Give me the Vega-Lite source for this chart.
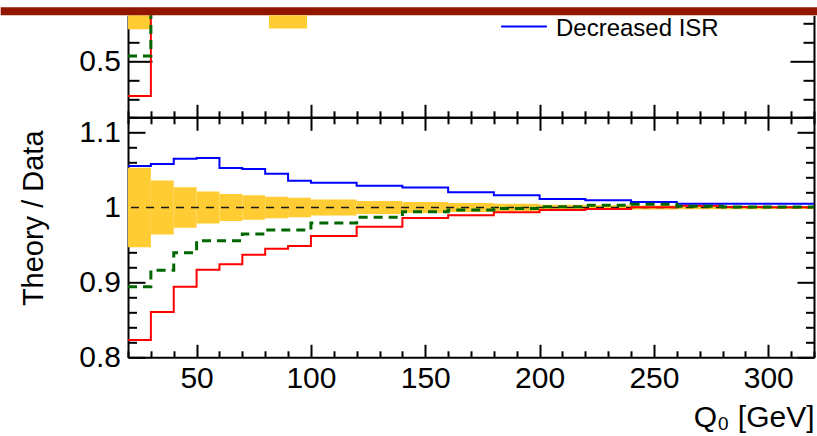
{
  "$schema": "https://vega.github.io/schema/vega-lite/v6.json",
  "background": "white",
  "padding": {"left": 0, "top": 7.3, "right": 0, "bottom": 0},
  "bounds": "flush",
  "spacing": 0,
  "config": {
    "font": "Liberation Sans",
    "view": {"stroke": null},
    "axis": {"domainColor": "#000", "tickColor": "#000", "domainWidth": 2, "tickWidth": 2, "labelColor": "#000", "titleColor": "#000", "labelFont": "Liberation Sans", "titleFont": "Liberation Sans", "titleFontWeight": "normal", "grid": false, "zindex": 1, "labelOverlap": false, "labelFlush": false},
    "legend": {"labelFont": "Liberation Sans", "labelColor": "#000", "labelLimit": 400}
  },
  "datasets": {
    "upper": [
      {"q0": 20, "q1": 30, "lo": 0.667, "hi": 0.95, "Increased ISR": 0.316, "Decreased ISR": 0.86, "Nominal": 0.526},
      {"q0": 30, "q1": 40, "lo": 0.84, "hi": 1.0, "Increased ISR": 0.95, "Decreased ISR": 0.93, "Nominal": 0.94}
    ],
    "ratio": [
      {"q0": 20, "q1": 30, "lo": 0.947, "hi": 1.053, "Increased ISR": 0.8231, "Decreased ISR": 1.0554, "Nominal": 0.8943},
      {"q0": 30, "q1": 40, "lo": 0.964, "hi": 1.036, "Increased ISR": 0.8605, "Decreased ISR": 1.0581, "Nominal": 0.9162},
      {"q0": 40, "q1": 50, "lo": 0.973, "hi": 1.027, "Increased ISR": 0.8943, "Decreased ISR": 1.0652, "Nominal": 0.9397},
      {"q0": 50, "q1": 60, "lo": 0.9785, "hi": 1.0215, "Increased ISR": 0.917, "Decreased ISR": 1.0661, "Nominal": 0.9557},
      {"q0": 60, "q1": 70, "lo": 0.982, "hi": 1.018, "Increased ISR": 0.9241, "Decreased ISR": 1.0527, "Nominal": 0.9557},
      {"q0": 70, "q1": 80, "lo": 0.9835, "hi": 1.0165, "Increased ISR": 0.937, "Decreased ISR": 1.0514, "Nominal": 0.9646},
      {"q0": 80, "q1": 90, "lo": 0.9857, "hi": 1.0143, "Increased ISR": 0.945, "Decreased ISR": 1.0451, "Nominal": 0.97},
      {"q0": 90, "q1": 100, "lo": 0.987, "hi": 1.013, "Increased ISR": 0.9486, "Decreased ISR": 1.0358, "Nominal": 0.97},
      {"q0": 100, "q1": 120, "lo": 0.9893, "hi": 1.0107, "Increased ISR": 0.9619, "Decreased ISR": 1.0331, "Nominal": 0.9793},
      {"q0": 120, "q1": 140, "lo": 0.9913, "hi": 1.0087, "Increased ISR": 0.9744, "Decreased ISR": 1.0291, "Nominal": 0.9869},
      {"q0": 140, "q1": 160, "lo": 0.9926, "hi": 1.0074, "Increased ISR": 0.986, "Decreased ISR": 1.0266, "Nominal": 0.9944},
      {"q0": 160, "q1": 180, "lo": 0.994, "hi": 1.006, "Increased ISR": 0.9896, "Decreased ISR": 1.0203, "Nominal": 0.9967},
      {"q0": 180, "q1": 200, "lo": 0.995, "hi": 1.005, "Increased ISR": 0.9936, "Decreased ISR": 1.0163, "Nominal": 0.9985},
      {"q0": 200, "q1": 220, "lo": 0.9963, "hi": 1.0037, "Increased ISR": 0.9967, "Decreased ISR": 1.0114, "Nominal": 1.0011},
      {"q0": 220, "q1": 240, "lo": 0.997, "hi": 1.003, "Increased ISR": 0.998, "Decreased ISR": 1.0096, "Nominal": 1.0029},
      {"q0": 240, "q1": 260, "lo": 0.9974, "hi": 1.0026, "Increased ISR": 1.0002, "Decreased ISR": 1.0073, "Nominal": 1.0043},
      {"q0": 260, "q1": 280, "lo": 0.9976, "hi": 1.0024, "Increased ISR": 1.0024, "Decreased ISR": 1.0051, "Nominal": 1.0015},
      {"q0": 280, "q1": 300, "lo": 0.9978, "hi": 1.0022, "Increased ISR": 1.0008, "Decreased ISR": 1.0051, "Nominal": 1.0008},
      {"q0": 300, "q1": 320, "lo": 0.998, "hi": 1.002, "Increased ISR": 1.0004, "Decreased ISR": 1.0051, "Nominal": 1.0005}
    ]
  },
  "vconcat": [
    {
      "width": 686,
      "height": 102,
      "resolve": {"axis": {"x": "independent", "y": "independent"}},
      "layer": [
        {
          "data": {"name": "upper"},
          "mark": {"type": "rect", "clip": true},
          "encoding": {
            "x": {"field": "q0", "type": "quantitative", "scale": {"domain": [20, 320], "nice": false, "zero": false},
              "axis": {"orient": "bottom", "values": [20,30,40,50,60,70,80,90,100,110,120,130,140,150,160,170,180,190,200,210,220,230,240,250,260,270,280,290,300,310,320],
                "tickSize": {"condition": {"test": "datum.value % 50 == 0", "value": -13}, "value": -6.5},
                "labels": false, "title": null}},
            "x2": {"field": "q1"},
            "y": {"field": "lo", "type": "quantitative", "scale": {"domain": [0.205, 0.7396], "nice": false, "zero": false},
              "axis": {"orient": "left", "values": [0.3, 0.4, 0.5, 0.6, 0.7],
                "tickSize": {"condition": {"test": "datum.value == 0.5", "value": -24}, "value": -11},
                "labelExpr": "datum.value == 0.5 ? format(datum.value, '~g') : ''",
                "labelFontSize": 30, "labelPadding": 31.5, "title": null}},
            "y2": {"field": "hi"},
            "fill": {"datum": "Data", "type": "nominal", "scale": {"range": ["#ffcc33"]},
              "legend": {"orient": "none", "legendX": 141, "legendY": 0, "padding": 0, "title": null,
                "symbolType": "M-1,-1H1V-0.3H-1Z", "symbolSize": 1444, "symbolStrokeWidth": 0, "symbolOpacity": 1,
                "labelExpr": "''", "labelFontSize": 24}}
          }
        },
        {
          "data": {"name": "upper"},
          "transform": [
            {"fold": ["Increased ISR", "Decreased ISR"], "as": ["series", "value"]},
            {"fold": ["q0", "q1"], "as": ["edge", "q"]}
          ],
          "mark": {"type": "line", "clip": true, "strokeWidth": 2},
          "encoding": {
            "x": {"field": "q", "type": "quantitative", "scale": {"domain": [20, 320], "nice": false, "zero": false}, "axis": null},
            "y": {"field": "value", "type": "quantitative", "scale": {"domain": [0.205, 0.7396], "nice": false, "zero": false},
              "axis": {"orient": "right", "values": [0.3, 0.4, 0.5, 0.6, 0.7],
                "tickSize": {"condition": {"test": "datum.value == 0.5", "value": -24}, "value": -11},
                "labels": false, "title": null}},
            "stroke": {"field": "series", "type": "nominal",
              "scale": {"domain": ["Increased ISR", "Decreased ISR"], "range": ["#ff0000", "#0000ff"]},
              "legend": {"values": ["Decreased ISR"], "orient": "none", "legendX": 372, "legendY": -3.2, "padding": 0, "title": null,
                "symbolType": "M-1,-0.4245H1", "symbolSize": 2090, "symbolStrokeWidth": 2,
                "labelFontSize": 24, "labelOffset": 8, "labelBaseline": "alphabetic", "labelLimit": 400}}
          }
        },
        {
          "data": {"name": "upper"},
          "transform": [{"fold": ["q0", "q1"], "as": ["edge", "q"]}],
          "mark": {"type": "line", "clip": true, "strokeWidth": 3, "strokeDash": [9, 6], "color": "#006600"},
          "encoding": {
            "x": {"field": "q", "type": "quantitative", "scale": {"domain": [20, 320], "nice": false, "zero": false}, "axis": null},
            "y": {"field": "Nominal", "type": "quantitative", "scale": {"domain": [0.205, 0.7396], "nice": false, "zero": false}, "axis": null}
          }
        },
        {
          "data": {"values": [{}]},
          "mark": {"type": "rect", "color": "#921500"},
          "encoding": {
            "x": {"datum": -35.67, "type": "quantitative", "scale": {"domain": [20, 320], "nice": false, "zero": false}, "axis": null},
            "x2": {"datum": 321.6},
            "y": {"datum": 0.7396, "type": "quantitative", "scale": {"domain": [0.205, 0.7396], "nice": false, "zero": false}, "axis": null},
            "y2": {"datum": 0.7815}
          }
        }
      ]
    },
    {
      "width": 686,
      "height": 240,
      "resolve": {"axis": {"x": "independent", "y": "independent"}},
      "layer": [
        {
          "data": {"name": "ratio"},
          "mark": {"type": "rect", "clip": true, "color": "#ffcc33"},
          "encoding": {
            "x": {"field": "q0", "type": "quantitative", "scale": {"domain": [20, 320], "nice": false, "zero": false},
              "axis": {"orient": "bottom", "values": [20,30,40,50,60,70,80,90,100,110,120,130,140,150,160,170,180,190,200,210,220,230,240,250,260,270,280,290,300,310,320],
                "tickSize": {"condition": {"test": "datum.value % 50 == 0", "value": -13}, "value": -6.5},
                "labelExpr": "datum.value % 50 == 0 ? format(datum.value, 'd') : ''",
                "labelFontSize": 30, "labelPadding": 19, "labelBaseline": "top",
                "title": "Q₀ [GeV]", "titleFontSize": 30, "titleAnchor": "end", "titleAlign": "right", "titleBaseline": "alphabetic", "titleX": 686, "titleY": 69.7}},
            "x2": {"field": "q1"},
            "y": {"field": "lo", "type": "quantitative", "scale": {"domain": [0.8, 1.1204], "nice": false, "zero": false},
              "axis": {"orient": "left", "values": [0.8,0.82,0.84,0.86,0.88,0.9,0.92,0.94,0.96,0.98,1,1.02,1.04,1.06,1.08,1.1,1.12],
                "tickSize": {"condition": {"test": "abs(datum.value*10 - round(datum.value*10)) < 0.001", "value": -17}, "value": -8.5},
                "labelExpr": "abs(datum.value*10 - round(datum.value*10)) < 0.001 ? format(datum.value, '~g') : ''",
                "labelFontSize": 30, "labelPadding": 24.5,
                "title": "Theory / Data", "titleFontSize": 29, "titleAngle": -90, "titleAlign": "right", "titleBaseline": "alphabetic", "titleX": -85.8, "titleY": 12.7}},
            "y2": {"field": "hi"}
          }
        },
        {
          "data": {"values": [{}]},
          "mark": {"type": "rule", "strokeDash": [8, 7], "strokeWidth": 1.5, "color": "#1a1a1a"},
          "encoding": {
            "y": {"datum": 1, "type": "quantitative", "scale": {"domain": [0.8, 1.1204], "nice": false, "zero": false}, "axis": null}
          }
        },
        {
          "data": {"name": "ratio"},
          "transform": [
            {"fold": ["Increased ISR", "Decreased ISR"], "as": ["series", "value"]},
            {"fold": ["q0", "q1"], "as": ["edge", "q"]}
          ],
          "mark": {"type": "line", "clip": true, "strokeWidth": 2},
          "encoding": {
            "x": {"field": "q", "type": "quantitative", "scale": {"domain": [20, 320], "nice": false, "zero": false},
              "axis": {"orient": "top", "values": [20,30,40,50,60,70,80,90,100,110,120,130,140,150,160,170,180,190,200,210,220,230,240,250,260,270,280,290,300,310,320],
                "tickSize": {"condition": {"test": "datum.value % 50 == 0", "value": -13}, "value": -6.5},
                "labels": false, "title": null}},
            "y": {"field": "value", "type": "quantitative", "scale": {"domain": [0.8, 1.1204], "nice": false, "zero": false},
              "axis": {"orient": "right", "values": [0.8,0.82,0.84,0.86,0.88,0.9,0.92,0.94,0.96,0.98,1,1.02,1.04,1.06,1.08,1.1,1.12],
                "tickSize": {"condition": {"test": "abs(datum.value*10 - round(datum.value*10)) < 0.001", "value": -17}, "value": -8.5},
                "labels": false, "title": null}},
            "stroke": {"field": "series", "type": "nominal",
              "scale": {"domain": ["Increased ISR", "Decreased ISR"], "range": ["#ff0000", "#0000ff"]}, "legend": null}
          }
        },
        {
          "data": {"name": "ratio"},
          "transform": [{"fold": ["q0", "q1"], "as": ["edge", "q"]}],
          "mark": {"type": "line", "clip": true, "strokeWidth": 3, "strokeDash": [9, 6], "color": "#006600"},
          "encoding": {
            "x": {"field": "q", "type": "quantitative", "scale": {"domain": [20, 320], "nice": false, "zero": false}, "axis": null},
            "y": {"field": "Nominal", "type": "quantitative", "scale": {"domain": [0.8, 1.1204], "nice": false, "zero": false}, "axis": null}
          }
        }
      ]
    }
  ],
  "resolve": {
    "scale": {"x": "independent", "y": "independent", "stroke": "independent", "fill": "independent"},
    "legend": {"stroke": "independent", "fill": "independent"}
  }
}
